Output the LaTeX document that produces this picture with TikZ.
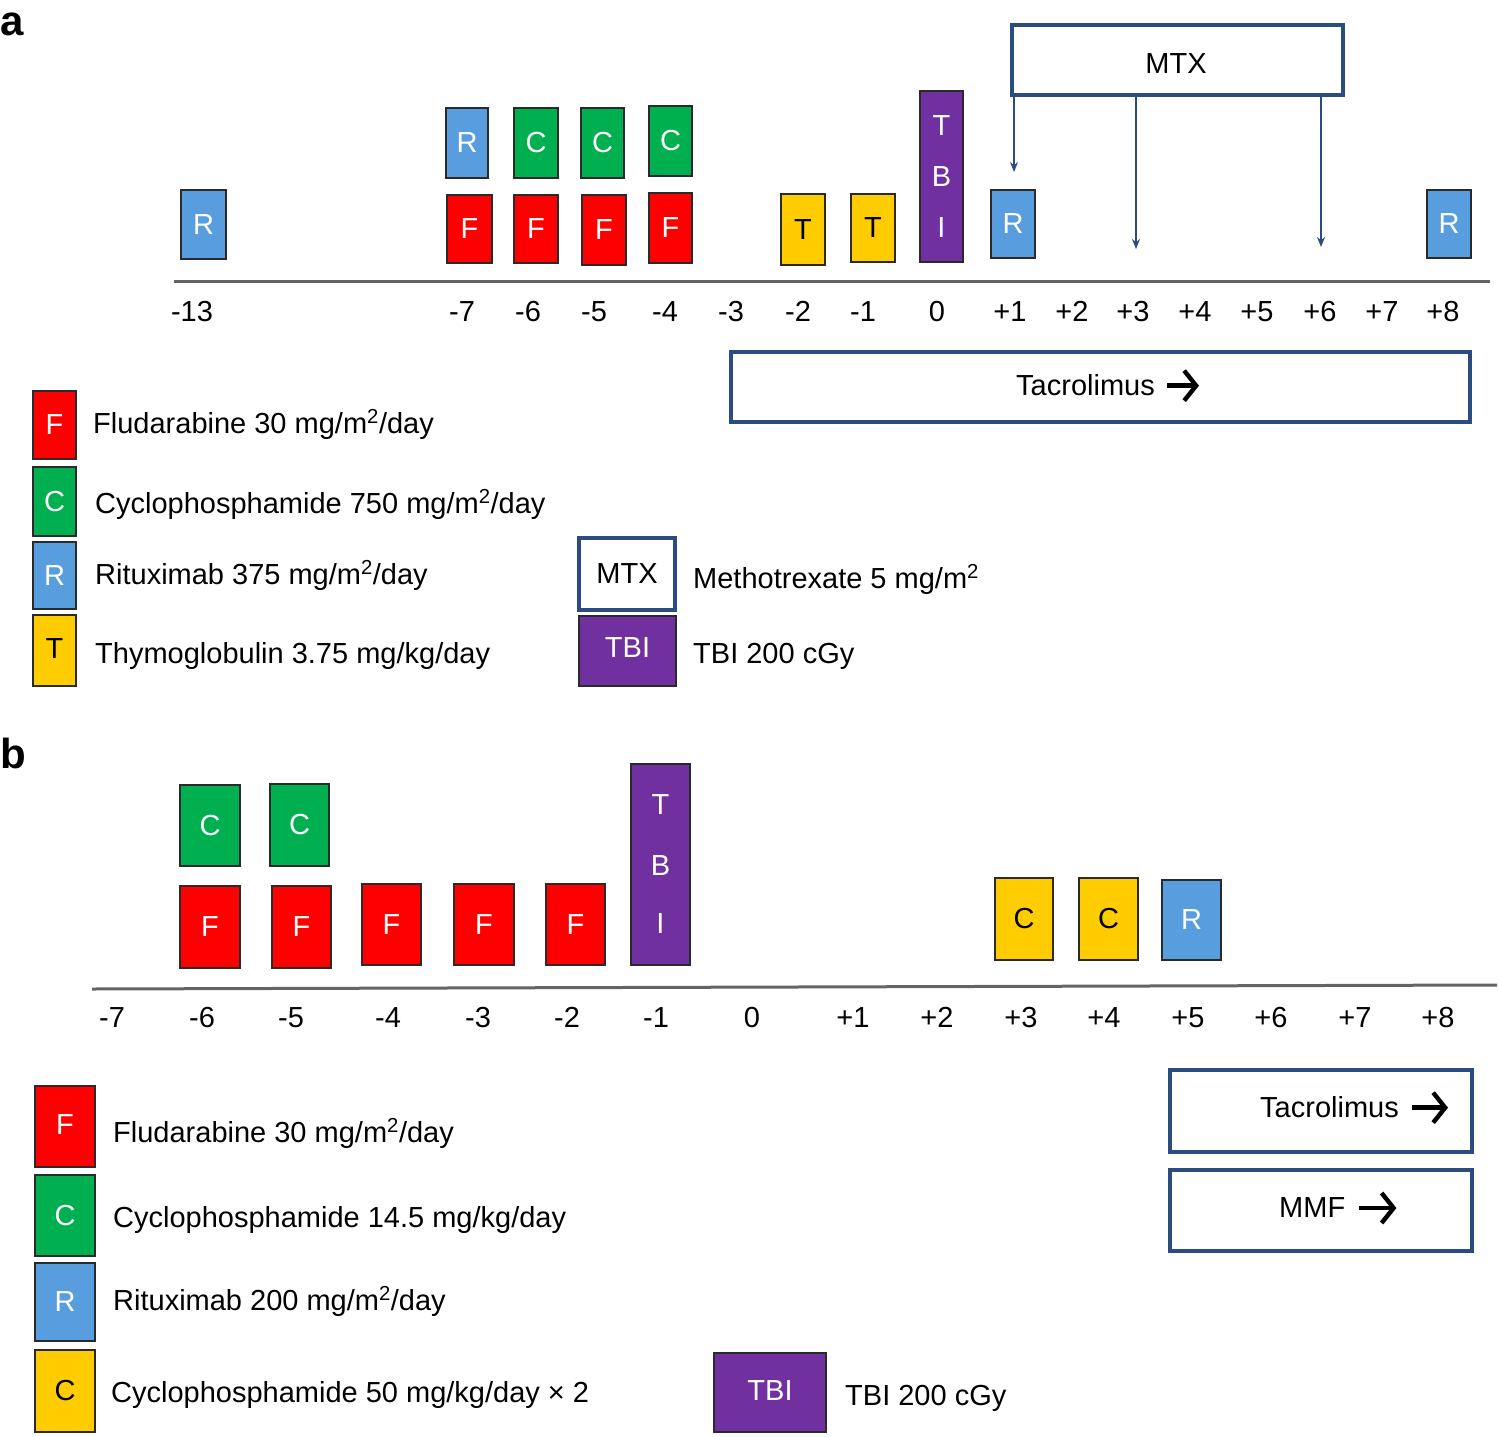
\documentclass[tikz,border=0pt]{standalone}
\usepackage{fontspec}
\setmainfont{Liberation Sans}
\usetikzlibrary{arrows.meta}
\definecolor{cRed}{HTML}{FF0000}
\definecolor{cGreen}{HTML}{00B050}
\definecolor{cBlue}{HTML}{589DDD}
\definecolor{cYellow}{HTML}{FFCC00}
\definecolor{cPurple}{HTML}{7030A0}
\definecolor{cBord}{HTML}{2A2A2A}
\definecolor{cNavy}{HTML}{2B4C7E}
\definecolor{cAxis}{HTML}{646464}
\newcommand\fs{\fontsize{29}{34}\selectfont}
\newcommand\drugbox[7]{%
  \node[#2, minimum width={#5-#3}, minimum height={#6-#4}] (#1) at ({(#3+#5)/2},{(#4+#6)/2}) {#7};}
\begin{document}
\begin{tikzpicture}[x=1pt,y=-1pt,
  box/.style={draw=cBord, line width=2.2pt, inner sep=0pt, font=\fs, text=white},
  drugF/.style={box, fill=cRed},
  drugC/.style={box, fill=cGreen},
  drugR/.style={box, fill=cBlue},
  drugT/.style={box, fill=cYellow, text=black},
  drugY/.style={box, fill=cYellow, text=black},
  tbibox/.style={box, fill=cPurple, align=center, font=\fontsize{29}{51}\selectfont},
  outbox/.style={draw=cNavy, line width=3.2pt, fill=white, inner sep=0pt, font=\fs, text=black},
  lbl/.style={anchor=base west, font=\fs, inner sep=0pt},
  tick/.style={anchor=base, font=\fs, inner sep=0pt},
  axisline/.style={draw=cAxis, line width=3pt},
  mtxarrow/.style={draw=cNavy, line width=2.2pt, -{Stealth[length=10pt,width=8pt]}},
  bigarrow/.style={line width=4.4pt, -{Straight Barb[length=12pt,width=30pt]}},
  panel/.style={anchor=base west, font=\fontsize{42}{46}\selectfont\bfseries, inner sep=0pt}
]
\useasboundingbox (0,0) rectangle (1499,1437);

% ---------------- panel a ----------------
\node[panel] (pa) at (0,36) {a};

\coordinate (aaxL) at (174,281);
\coordinate (aaxR) at (1490,281);
\draw[axisline] (aaxL) -- (aaxR);

\foreach \x/\t/\n in {192/-13/m13, 462/-7/m7, 528/-6/m6, 594/-5/m5, 665/-4/m4, 731/-3/m3, 798/-2/m2, 863/-1/m1, 937/0/z, 1010/+1/p1, 1072/+2/p2, 1133/+3/p3, 1195/+4/p4, 1257/+5/p5, 1320/+6/p6, 1382/+7/p7, 1443/+8/p8}
  \node[tick] (at\n) at (\x,321) {\t};

\drugbox{aR13}{drugR}{181}{190}{226}{259}{R}
\drugbox{aR7}{drugR}{446}{108}{488}{178}{R}
\drugbox{aF7}{drugF}{447}{195}{492}{263}{F}
\drugbox{aC6}{drugC}{514}{108}{558}{178}{C}
\drugbox{aF6}{drugF}{514}{195}{558}{263}{F}
\drugbox{aC5}{drugC}{581}{108}{624}{178}{C}
\drugbox{aF5}{drugF}{582}{195}{626}{265}{F}
\drugbox{aC4}{drugC}{649}{106}{692}{176}{C}
\drugbox{aF4}{drugF}{649}{193}{692}{263}{F}
\drugbox{aT2}{drugT}{781}{194}{825}{265}{T}
\drugbox{aT1}{drugT}{851}{194}{895}{262}{T}
\drugbox{aTBI}{tbibox}{920}{91}{963}{262}{T\\B\\I}
\drugbox{aRp1}{drugR}{991}{190}{1035}{258}{R}
\drugbox{aRp8}{drugR}{1427}{190}{1471}{258}{R}

\drugbox{mtx}{outbox}{1012}{25}{1343}{95}{}
\node[tick] (mtxtxt) at (1176,74) {MTX};
\coordinate (mA) at (1014,172);
\coordinate (mB) at (1136,249);
\coordinate (mC) at (1321,247);
\draw[mtxarrow] (mtx.south -| mA) -- (mA);
\draw[mtxarrow] (mtx.south -| mB) -- (mB);
\draw[mtxarrow] (mtx.south -| mC) -- (mC);

\drugbox{atac}{outbox}{731}{352}{1470}{422}{}
\node[lbl] (atactxt) at (1016,395) {Tacrolimus};
\draw[bigarrow] ([xshift=12pt,yshift=-1pt]atactxt.east) -- ++(32,0);

% legend a
\drugbox{lF}{drugF}{33}{391}{76}{459}{F}
\drugbox{lC}{drugC}{33}{467}{76}{536}{C}
\drugbox{lR}{drugR}{33}{542}{76}{609}{R}
\drugbox{lT}{drugT}{33}{615}{76}{686}{\raisebox{3pt}{T}}
\drugbox{lMTX}{outbox}{579}{538}{675}{610}{MTX}
\drugbox{lTBI}{tbibox}{579}{616}{676}{686}{\raisebox{7pt}{TBI}}
\node[lbl] (lFt) at (93,433) {Fludarabine 30 mg/m\textsuperscript{2}/day};
\node[lbl] (lCt) at (95,513) {Cyclophosphamide 750 mg/m\textsuperscript{2}/day};
\node[lbl] (lRt) at (95,584) {Rituximab 375 mg/m\textsuperscript{2}/day};
\node[lbl] (lTt) at (95,663) {Thymoglobulin 3.75 mg/kg/day};
\node[lbl] (lMt) at (693,588) {Methotrexate 5 mg/m\textsuperscript{2}};
\node[lbl] (lBt) at (693,663) {TBI 200 cGy};

% ---------------- panel b ----------------
\node[panel] (pb) at (0,768) {b};

\coordinate (baxL) at (92,989);
\coordinate (baxR) at (1497,985);
\draw[axisline] (baxL) -- (baxR);

\foreach \x/\t/\n in {112/-7/m7, 202/-6/m6, 291/-5/m5, 388/-4/m4, 478/-3/m3, 567/-2/m2, 656/-1/m1, 752/0/z, 853/+1/p1, 937/+2/p2, 1021/+3/p3, 1104/+4/p4, 1188/+5/p5, 1271/+6/p6, 1355/+7/p7, 1438/+8/p8}
  \node[tick] (bt\n) at (\x,1027) {\t};

\drugbox{bC6}{drugC}{180}{785}{240}{866}{C}
\drugbox{bC5}{drugC}{270}{784}{329}{866}{C}
\drugbox{bF6}{drugF}{180}{886}{240}{968}{F}
\drugbox{bF5}{drugF}{272}{886}{331}{968}{F}
\drugbox{bF4}{drugF}{362}{884}{421}{965}{F}
\drugbox{bF3}{drugF}{454}{884}{514}{965}{F}
\drugbox{bF2}{drugF}{546}{884}{605}{965}{F}
\drugbox{bTBI}{tbibox,font=\fontsize{29}{58}\selectfont}{631}{764}{690}{965}{\raisebox{3pt}{T}\\B\\I}
\drugbox{bY3}{drugY}{995}{878}{1053}{960}{C}
\drugbox{bY4}{drugY}{1079}{878}{1138}{960}{C}
\drugbox{bR5}{drugR}{1162}{880}{1221}{960}{R}

% legend b
\drugbox{blF}{drugF}{35}{1086}{95}{1167}{\raisebox{4pt}{F}}
\drugbox{blC}{drugC}{35}{1175}{95}{1256}{C}
\drugbox{blR}{drugR}{35}{1263}{95}{1341}{R}
\drugbox{blY}{drugY}{35}{1350}{95}{1432}{C}
\drugbox{blTBI}{tbibox}{714}{1353}{826}{1432}{\raisebox{4pt}{TBI}}
\node[lbl] (blFt) at (113,1142) {Fludarabine 30 mg/m\textsuperscript{2}/day};
\node[lbl] (blCt) at (113,1227) {Cyclophosphamide 14.5 mg/kg/day};
\node[lbl] (blRt) at (113,1310) {Rituximab 200 mg/m\textsuperscript{2}/day};
\node[lbl] (blYt) at (111,1402) {Cyclophosphamide 50 mg/kg/day × 2};
\node[lbl] (blBt) at (845,1405) {TBI 200 cGy};

\drugbox{btac}{outbox}{1170}{1070}{1472}{1152}{}
\node[lbl] (btactxt) at (1260,1117) {Tacrolimus};
\draw[bigarrow] ([xshift=13pt,yshift=-1pt]btactxt.east) -- ++(36,0);
\drugbox{bmmf}{outbox}{1170}{1170}{1472}{1251}{}
\node[lbl] (bmmftxt) at (1279,1217) {MMF};
\draw[bigarrow] ([xshift=14pt,yshift=-1pt]bmmftxt.east) -- ++(37,0);
\end{tikzpicture}
\end{document}
